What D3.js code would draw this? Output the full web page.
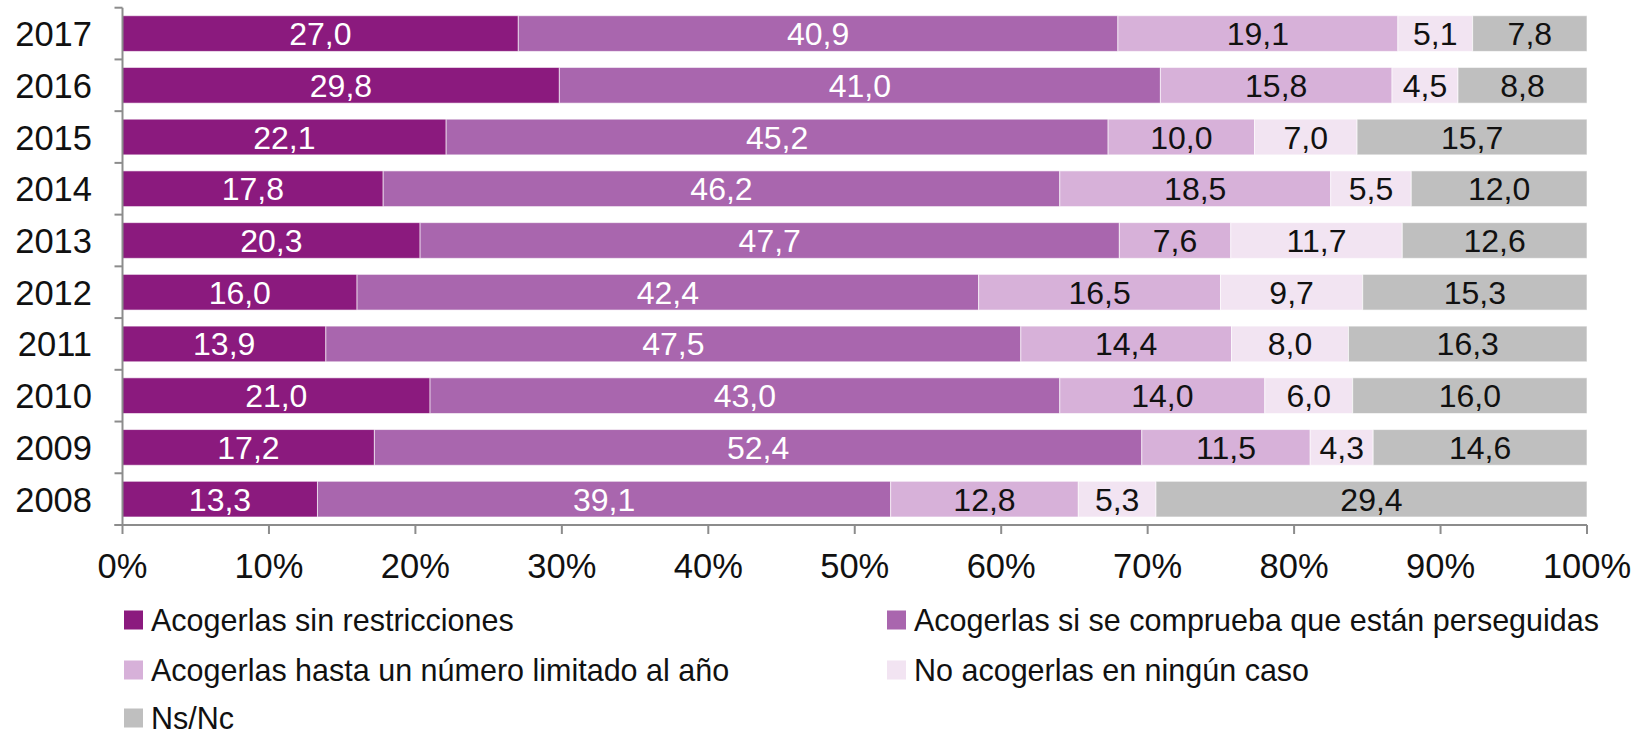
<!DOCTYPE html>
<html>
<head>
<meta charset="utf-8">
<script src="https://cdn.jsdelivr.net/npm/d3@7"></script>
<style>
  body { margin: 0; background: #fff; }
  svg { display: block; font-family: "Liberation Sans", Arial, sans-serif; }
</style>
</head>
<body>
<svg id="chart" width="1644" height="733"></svg>
<script>
// data, top row first
var years = ["2017", "2016", "2015", "2014", "2013", "2012", "2011", "2010", "2009", "2008"];
var sinRestricciones = [27.0, 29.8, 22.1, 17.8, 20.3, 16.0, 13.9, 21.0, 17.2, 13.3];
var siPerseguidas    = [40.9, 41.0, 45.2, 46.2, 47.7, 42.4, 47.5, 43.0, 52.4, 39.1];
var numeroLimitado   = [19.1, 15.8, 10.0, 18.5, 7.6, 16.5, 14.4, 14.0, 11.5, 12.8];
var ningunCaso       = [5.1, 4.5, 7.0, 5.5, 11.7, 9.7, 8.0, 6.0, 4.3, 5.3];
var nsnc             = [7.8, 8.8, 15.7, 12.0, 12.6, 15.3, 16.3, 16.0, 14.6, 29.4];
var seriesNames = ["Acogerlas sin restricciones", "Acogerlas si se comprueba que están perseguidas",
                   "Acogerlas hasta un número limitado al año", "No acogerlas en ningún caso", "Ns/Nc"];
var xTicks = [0, 0.1, 0.2, 0.3, 0.4, 0.5, 0.6, 0.7, 0.8, 0.9, 1];

var colors = ["#8b1a7e", "#a966ae", "#d7b1d9", "#f2e4f2", "#bfbfbf"];
var textColors = ["#fff", "#fff", "#111", "#111", "#111"];

var allSeries = [sinRestricciones, siPerseguidas, numeroLimitado, ningunCaso, nsnc];
var rows = years.map(function(yr, i) {
    var vals = allSeries.map(function(s) { return s[i]; });
    var total = d3.sum(vals);
    var acc = 0;
    var segs = vals.map(function(v, k) {
        var seg = {k: k, v: v, x0: acc / total, x1: (acc + v) / total};
        acc += v;
        return seg;
    });
    return {year: yr, segs: segs};
});

var svg = d3.select("#chart");
var plotLeft = 122.5, plotRight = 1587, plotTop = 7.7, plotBottom = 525;

var x = d3.scaleLinear().domain([0, 1]).range([plotLeft, plotRight]);
var y = d3.scaleBand().domain(years).range([plotTop, plotBottom]).paddingInner(0.31).paddingOuter(0.155);

var fmt = function(v) { return v.toFixed(1).replace(".", ","); };

var rowG = svg.selectAll("g.row")
    .data(rows)
    .enter()
    .append("g")
    .attr("class", "row")
    .attr("transform", function(d) { return "translate(0," + y(d.year) + ")"; });

rowG.selectAll("rect")
    .data(function(d) { return d.segs; })
    .enter()
    .append("rect")
    .attr("x", function(d) { return x(d.x0); })
    .attr("y", 0)
    .attr("width", function(d) { return x(d.x1) - x(d.x0); })
    .attr("height", y.bandwidth())
    .attr("fill", function(d) { return colors[d.k]; })
    .attr("stroke", "#fff")
    .attr("stroke-opacity", 0.6)
    .attr("stroke-width", 1);

rowG.selectAll("text")
    .data(function(d) { return d.segs; })
    .enter()
    .append("text")
    .attr("x", function(d) { return (x(d.x0) + x(d.x1)) / 2; })
    .attr("y", y.bandwidth() / 2 + 11.5)
    .attr("text-anchor", "middle")
    .attr("font-size", 32)
    .attr("fill", function(d) { return textColors[d.k]; })
    .text(function(d) { return fmt(d.v); });

// y axis with ticks on band boundaries
var axisColor = "#8c8c8c";
svg.append("line")
    .attr("x1", plotLeft).attr("x2", plotLeft)
    .attr("y1", plotTop).attr("y2", plotBottom)
    .attr("stroke", axisColor).attr("stroke-width", 2);

var step = y.step();
var bounds = d3.range(years.length + 1).map(function(i) { return plotTop + i * step; });
svg.selectAll("line.ytick")
    .data(bounds)
    .enter()
    .append("line")
    .attr("class", "ytick")
    .attr("x1", plotLeft - 8).attr("x2", plotLeft)
    .attr("y1", function(d) { return d; }).attr("y2", function(d) { return d; })
    .attr("stroke", axisColor).attr("stroke-width", 2);

svg.selectAll("text.year")
    .data(years)
    .enter()
    .append("text")
    .attr("class", "year")
    .attr("x", 92)
    .attr("y", function(d) { return y(d) + y.bandwidth() / 2 + 12.5; })
    .attr("text-anchor", "end")
    .attr("font-size", 34.5)
    .attr("fill", "#111")
    .text(function(d) { return d; });

// x axis
svg.append("line")
    .attr("x1", plotLeft - 8).attr("x2", plotRight)
    .attr("y1", plotBottom).attr("y2", plotBottom)
    .attr("stroke", axisColor).attr("stroke-width", 2);

svg.selectAll("line.xtick")
    .data(xTicks)
    .enter()
    .append("line")
    .attr("class", "xtick")
    .attr("x1", function(d) { return x(d); }).attr("x2", function(d) { return x(d); })
    .attr("y1", plotBottom).attr("y2", plotBottom + 9)
    .attr("stroke", axisColor).attr("stroke-width", 2);

svg.selectAll("text.xlab")
    .data(xTicks)
    .enter()
    .append("text")
    .attr("class", "xlab")
    .attr("x", function(d) { return x(d); })
    .attr("y", 578)
    .attr("text-anchor", "middle")
    .attr("font-size", 34.5)
    .attr("fill", "#111")
    .text(function(d) { return Math.round(d * 100) + "%"; });

// legend
var legendPos = [[124, 620], [887, 620], [124, 670], [887, 670], [124, 718]];
var leg = svg.selectAll("g.legend")
    .data(seriesNames)
    .enter()
    .append("g")
    .attr("class", "legend")
    .attr("transform", function(d, i) { return "translate(" + legendPos[i][0] + "," + legendPos[i][1] + ")"; });

leg.append("rect")
    .attr("x", 0).attr("y", -9.5)
    .attr("width", 19).attr("height", 19)
    .attr("fill", function(d, i) { return colors[i]; });

leg.append("text")
    .attr("x", 27)
    .attr("y", 10.5)
    .attr("font-size", 30.5)
    .attr("fill", "#111")
    .text(function(d) { return d; });
</script>
</body>
</html>
